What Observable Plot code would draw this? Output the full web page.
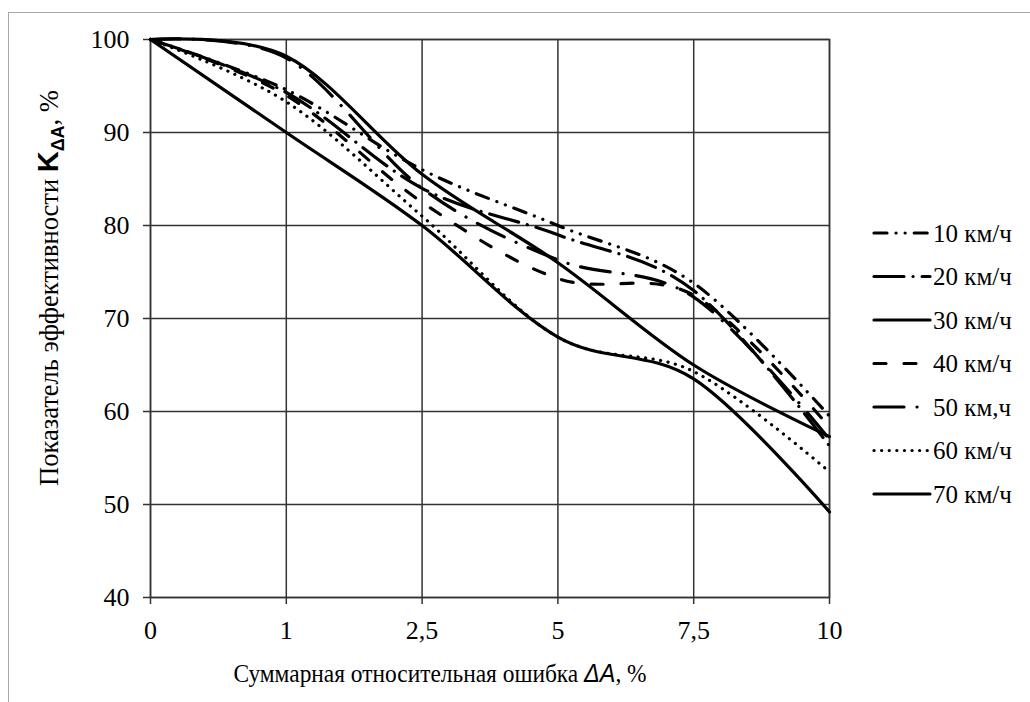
<!DOCTYPE html>
<html>
<head>
<meta charset="utf-8">
<script src="https://cdn.jsdelivr.net/npm/d3@7"></script>
<script src="https://cdn.jsdelivr.net/npm/@observablehq/plot@0.6"></script>
<style>
html, body { margin: 0; padding: 0; background: #fff; overflow: hidden; width: 1030px; height: 702px; }
#wrap { position: relative; width: 1030px; height: 702px; font-family: "Liberation Serif", "Times New Roman", serif; color: #000; }
#border { position: absolute; left: 8px; top: 12px; width: 1200px; height: 900px; border: 1.5px solid #a8a8a8; box-sizing: border-box; }
#chart { position: absolute; left: 0; top: 0; }
#ytitle { position: absolute; left: 50px; top: 288px; transform: translate(-50%, -50%) rotate(-90deg); white-space: nowrap; font-size: 26.5px; }
#ytitle .k { font-family: "Liberation Sans", Arial, sans-serif; font-weight: bold; font-size: 29px; }
#ytitle sub { font-size: 18px; vertical-align: -6px; }
#xtitle { position: absolute; left: 440px; top: 673px; transform: translate(-50%, -50%) scaleX(0.9); white-space: nowrap; font-size: 26px; }
#xtitle i { font-family: "Liberation Sans", Arial, sans-serif; }
#legend { position: absolute; left: 860px; top: 205px; }
</style>
</head>
<body>
<div id="wrap">
  <div id="border"></div>
  <div id="chart"></div>
  <div id="ytitle">Показатель эффективности <span class="k">K<sub>ΔA</sub></span>, %</div>
  <div id="xtitle">Суммарная относительная ошибка <i>ΔA</i>, %</div>
  <svg id="legend" width="170" height="320"></svg>
</div>
<script>
// ---- data ----
const xLabels = ["0", "1", "2,5", "5", "7,5", "10"];
const yTicks = [40, 50, 60, 70, 80, 90, 100];
const seriesNames = ["10 км/ч", "20 км/ч", "30 км/ч", "40 км/ч", "50 км,ч", "60 км/ч", "70 км/ч"];
const v10 = [100, 94.6, 86.0, 80.0, 73.8, 59.5];
const v20 = [100, 94.3, 84.0, 79.0, 73.0, 56.3];
const v30 = [100, 98.2, 85.5, 76.0, 65.0, 57.3];
const v40 = [100, 94.0, 82.5, 74.3, 72.5, 58.3];
const v50 = [100, 98.0, 84.0, 76.3, 72.3, 57.0];
const v60 = [100, 93.3, 81.0, 68.0, 64.3, 53.5];
const v70 = [100, 90.0, 80.0, 68.0, 63.5, 49.2];
const seriesValues = [v10, v20, v30, v40, v50, v60, v70];

// ---- styles ----
const dashes = [
  "13,9,0.1,9,0.1,9",
  "30,9,0.1,9",
  null,
  "12,18",
  "30,13,0.1,13",
  "0.1,7.5",
  null
];

const rows = [];
seriesNames.forEach((name, k) => seriesValues[k].forEach((v, i) => rows.push({name, i, v})));

const gridStroke = "#333";
const lineMarks = seriesNames.map((name, k) =>
  Plot.line(rows.filter(r => r.name === name), {
    x: "i", y: "v",
    curve: d3.curveCatmullRom.alpha(0),
    stroke: "#000",
    strokeWidth: 3.2,
    strokeLinecap: "round",
    strokeLinejoin: "round",
    strokeDasharray: dashes[k] || undefined
  })
);

const chart = Plot.plot({
  width: 1030,
  height: 702,
  marginLeft: 150,
  marginTop: 39,
  marginRight: 201,
  marginBottom: 105,
  style: { fontFamily: "'Liberation Serif', 'Times New Roman', serif", fontSize: "26px", color: "#000", background: "transparent" },
  x: { domain: [0, 5] },
  y: { domain: [40, 100] },
  marks: [
    Plot.gridX(d3.range(xLabels.length), { stroke: gridStroke, strokeOpacity: 1, strokeWidth: 1.5 }),
    Plot.gridY(yTicks, { stroke: gridStroke, strokeOpacity: 1, strokeWidth: 1.5 }),
    Plot.frame({ stroke: gridStroke, strokeWidth: 1.5 }),
    Plot.axisX(d3.range(xLabels.length), { tickFormat: i => xLabels[i], tickSize: 7, tickPadding: 16, stroke: gridStroke, strokeWidth: 1.5, label: null }),
    Plot.axisY(yTicks, { tickSize: 7, tickPadding: 14, stroke: gridStroke, strokeWidth: 1.5, label: null }),
    ...lineMarks
  ]
});
document.getElementById("chart").appendChild(chart);

// ---- legend ----
const leg = d3.select("#legend");
seriesNames.forEach((name, k) => {
  const cy = 28 + k * 43.5;
  leg.append("line")
    .attr("x1", 14).attr("x2", 70).attr("y1", cy).attr("y2", cy)
    .attr("stroke", "#000").attr("stroke-width", 3.2)
    .attr("stroke-linecap", "round")
    .attr("stroke-dasharray", dashes[k] || null);
  leg.append("text")
    .attr("x", 73).attr("y", cy).attr("dy", "0.35em")
    .attr("font-family", "'Liberation Serif', 'Times New Roman', serif")
    .attr("font-size", 25)
    .text(name);
});
</script>
</body>
</html>
